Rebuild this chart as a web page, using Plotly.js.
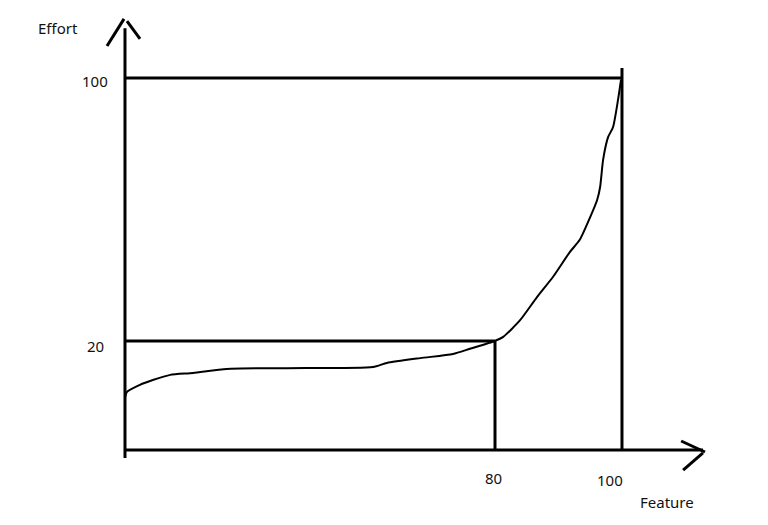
<!DOCTYPE html>
<html>
<head>
<meta charset="utf-8">
<script src="https://cdn.plot.ly/plotly-3.0.1.min.js"></script>
<style>html,body{margin:0;padding:0;background:#fff;}#chart{width:768px;height:525px;}</style>
</head>
<body>
<div id="chart"></div>
<script>
// Hand-drawn sketch: values, in the sketch's own units
// (Feature 0..100 across the drawn x span, Effort 0..100 up the drawn y span).
const curveFeature = [0, 0.4, 3.0, 5.6, 9.1, 13.7, 20.5, 32.6, 49.9, 52.7, 59.4, 66.0, 69.4, 74.4, 76.1, 79.5, 82.9, 86.1, 89.5, 91.5, 93.6, 95.0, 95.6, 96.2, 97.2, 98.2, 99.2, 99.8];
const curveEffort  = [14.0, 15.6, 17.5, 18.8, 20.2, 20.7, 21.8, 22.0, 22.3, 23.4, 24.7, 25.8, 27.2, 29.3, 30.4, 34.9, 41.1, 46.5, 53.2, 56.5, 62.6, 67.2, 70.7, 78.0, 84.1, 86.8, 94.1, 99.5];

// Guide marks (where they were drawn) and their labels
const featureMarks = [74.45, 100];
const featureLabels = ['80', '100'];
const effortMarks = [29.3, 100];
const effortLabels = ['20', '100'];

// Axis extents and arrowheads as sketched
const xAxisEnd = 116.3;
const yAxisTop = 113.4;
const yAxisBottom = -2.15;
const upArrowX = [-3.62, -0.2, null, 0.4, 3.02];
const upArrowY = [108.6, 115.9, null, 115.3, 110.5];
const rightArrowX = [111.9, 116.7, null, 116.3, 112.3];
const rightArrowY = [2.42, -0.54, null, -0.8, -5.38];

const axisTitles = {x: 'Feature', y: 'Effort'};

const black = '#000000';
const thick = {color: black, width: 3};

const traces = [
  {x: [0, 0], y: [yAxisBottom, yAxisTop], mode: 'lines', line: thick},
  {x: [0, xAxisEnd], y: [0, 0], mode: 'lines', line: thick},
  {x: upArrowX, y: upArrowY, mode: 'lines', line: thick, connectgaps: false},
  {x: rightArrowX, y: rightArrowY, mode: 'lines', line: thick, connectgaps: false},
  {x: [0, featureMarks[1]], y: [effortMarks[1], effortMarks[1]], mode: 'lines', line: thick},
  {x: [featureMarks[1], featureMarks[1]], y: [0, effortMarks[1] + 2.7], mode: 'lines', line: thick},
  {x: [0, featureMarks[0]], y: [effortMarks[0], effortMarks[0]], mode: 'lines', line: thick},
  {x: [featureMarks[0], featureMarks[0]], y: [0, effortMarks[0]], mode: 'lines', line: thick},
  {x: curveFeature, y: curveEffort, mode: 'lines', line: {color: black, width: 2, shape: 'spline', smoothing: 0.6}}
];

const font = {family: 'Noto Sans, Open Sans, sans-serif', size: 15, color: '#111111'};
const annotations = [];
featureMarks.forEach((v, i) => {
  annotations.push({x: v - (i === 0 ? 0.4 : 2.4), y: i === 0 ? -7.5 : -8.1, xref: 'x', yref: 'y', text: featureLabels[i], showarrow: false, font: font});
});
effortMarks.forEach((v, i) => {
  annotations.push({x: -6.0, y: v - (i === 0 ? 1.3 : 0.8), xref: 'x', yref: 'y', text: effortLabels[i], showarrow: false, font: font});
});
annotations.push({x: 109.1, y: -14.0, xref: 'x', yref: 'y', text: axisTitles.x, showarrow: false, font: font});
annotations.push({x: -13.5, y: 113.4, xref: 'x', yref: 'y', text: axisTitles.y, showarrow: false, font: font});

const layout = {
  width: 768, height: 525,
  margin: {l: 0, r: 0, t: 0, b: 0},
  paper_bgcolor: '#ffffff', plot_bgcolor: '#ffffff',
  showlegend: false,
  xaxis: {range: [-25.15, 129.38], visible: false, fixedrange: true},
  yaxis: {range: [-20.16, 120.97], visible: false, fixedrange: true},
  annotations: annotations
};

Plotly.newPlot('chart', traces, layout, {displayModeBar: false, staticPlot: true});
</script>
</body>
</html>
